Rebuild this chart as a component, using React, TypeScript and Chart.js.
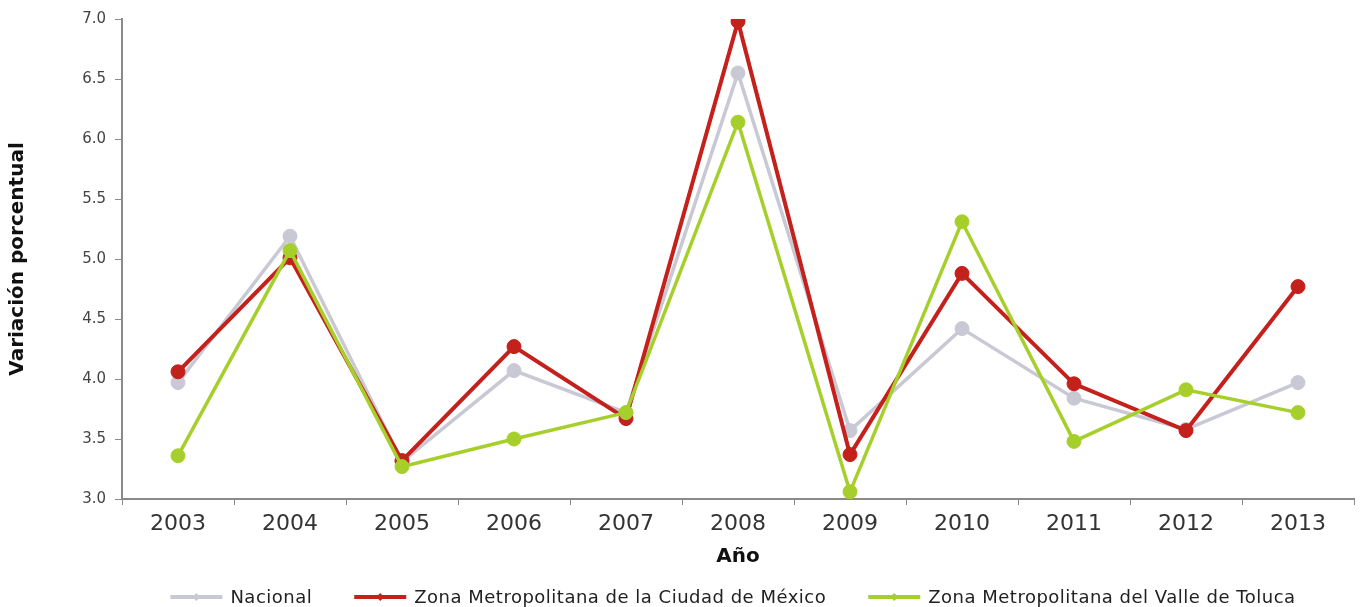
import React, { useEffect, useRef } from "react";
import { Chart, registerables } from "chart.js";
Chart.register(...registerables);

const years = ["2003", "2004", "2005", "2006", "2007", "2008", "2009", "2010", "2011", "2012", "2013"];
const nacional = [3.97, 5.19, 3.31, 4.07, 3.72, 6.55, 3.57, 4.42, 3.84, 3.58, 3.97];
const zmcm = [4.06, 5.01, 3.32, 4.27, 3.67, 6.98, 3.37, 4.88, 3.96, 3.57, 4.77];
const zmvt = [3.36, 5.07, 3.27, 3.5, 3.72, 6.14, 3.06, 5.31, 3.48, 3.91, 3.72];
const seriesLabels = [
  "Nacional",
  "Zona Metropolitana de la Ciudad de México",
  "Zona Metropolitana del Valle de Toluca",
];
const yMin = 3.0;
const yMax = 7.0;
const yStep = 0.5;

const GRAY = "#c9c9d5";
const RED = "#c4201c";
const GREEN = "#a6cf2c";
const FONT = "'DejaVu Sans', sans-serif";

const legendPlugin = {
  id: "customLegend",
  afterDraw(chart: any) {
    const ctx = chart.ctx;
    ctx.save();
    ctx.font = `18px ${FONT}`;
    (ctx as any).letterSpacing = "0.5px";
    ctx.textBaseline = "middle";
    const lineW = 52;
    const gapT = 8;
    const gapI = 42;
    const items = chart.data.datasets.map((ds: any) => ({
      label: ds.label,
      color: ds.borderColor,
      w: ctx.measureText(ds.label).width,
    }));
    const total =
      items.reduce((s: number, it: any) => s + lineW + gapT + it.w, 0) + gapI * (items.length - 1);
    let x = chart.width * 0.5366 - total / 2;
    const y = chart.height - 10;
    items.forEach((it: any) => {
      ctx.strokeStyle = it.color;
      ctx.lineWidth = 4;
      ctx.beginPath();
      ctx.moveTo(x, y);
      ctx.lineTo(x + lineW, y);
      ctx.stroke();
      ctx.fillStyle = it.color;
      ctx.beginPath();
      const cx = x + lineW / 2;
      ctx.moveTo(cx, y - 4);
      ctx.lineTo(cx + 4, y);
      ctx.lineTo(cx, y + 4);
      ctx.lineTo(cx - 4, y);
      ctx.closePath();
      ctx.fill();
      ctx.fillStyle = "#222";
      ctx.fillText(it.label, x + lineW + gapT, y + 1);
      x += lineW + gapT + it.w + gapI;
    });
    ctx.restore();
  },
};

export default function App() {
  const ref = useRef<HTMLCanvasElement | null>(null);
  useEffect(() => {
    document.body.style.margin = "0";
    document.body.style.overflow = "hidden";
    const mk = (label: string, data: number[], color: string, width: number, order: number) => ({
      label,
      data,
      borderColor: color,
      backgroundColor: color,
      pointBackgroundColor: color,
      pointBorderColor: color,
      pointRadius: 7,
      pointBorderWidth: 1,
      borderWidth: width,
      tension: 0,
      order,
    });
    const chart = new Chart(ref.current as HTMLCanvasElement, {
      type: "line",
      data: {
        labels: years,
        datasets: [
          mk(seriesLabels[0], nacional, GRAY, 3.5, 3),
          mk(seriesLabels[1], zmcm, RED, 4, 2),
          mk(seriesLabels[2], zmvt, GREEN, 3.5, 1),
        ],
      },
      options: {
        animation: false,
        responsive: false,
        maintainAspectRatio: false,
        layout: { padding: { top: 19, right: 12, left: 0, bottom: 30 } },
        plugins: {
          legend: { display: false },
          tooltip: { enabled: false },
        },
        scales: {
          x: {
            offset: true,
            grid: {
              offset: true,
              drawOnChartArea: false,
              drawTicks: true,
              tickLength: 6,
              color: "#8a8a8a",
            },
            border: { display: true, color: "#8a8a8a", width: 2 },
            ticks: { color: "#333", font: { family: FONT, size: 22 }, padding: 6, maxRotation: 0 },
            title: {
              display: true,
              text: "Año",
              color: "#111",
              font: { family: FONT, size: 20, weight: "bold" },
              padding: { top: 0, bottom: 8 },
            },
            afterFit: (s: any) => {
              s.height = 78;
            },
          },
          y: {
            min: yMin,
            max: yMax,
            ticks: {
              stepSize: yStep,
              color: "#444",
              font: { family: FONT, size: 15 },
              padding: 9,
              callback: (v: any) => Number(v).toFixed(1),
            },
            grid: {
              drawOnChartArea: false,
              drawTicks: true,
              tickLength: 7,
              color: "#8a8a8a",
            },
            border: { display: true, color: "#8a8a8a", width: 2 },
            title: {
              display: true,
              text: "Variación porcentual",
              color: "#111",
              font: { family: FONT, size: 20, weight: "bold" },
              padding: { top: 6, bottom: 0 },
            },
            afterFit: (s: any) => {
              s.width = 122;
            },
          },
        },
      },
      plugins: [legendPlugin],
    });
    return () => chart.destroy();
  }, []);
  return (
    <div style={{ width: 1366, height: 607 }}>
      <canvas ref={ref} width={1366} height={607} style={{ display: "block" }} />
    </div>
  );
}
